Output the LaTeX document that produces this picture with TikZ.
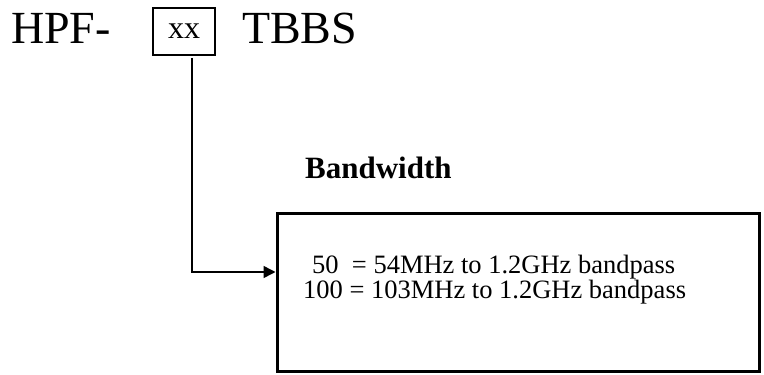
\documentclass[tikz,border=0pt]{standalone}
\usepackage{fontspec}
\setmainfont{Liberation Serif}
\usetikzlibrary{arrows.meta}

\tikzset{
    code/.style={inner sep=0pt, anchor=base west, font=\fontsize{46}{54}\selectfont},
    field/.style={draw, line width=1.8pt, minimum width=62pt, minimum height=47pt, inner sep=0pt, font=\fontsize{32}{36}\selectfont},
    panel/.style={draw, line width=3pt, minimum width=482pt, minimum height=158pt},
}

\begin{document}
\begin{tikzpicture}[x=1pt, y=-1pt]
\useasboundingbox (0,0) rectangle (764,375);
\node [code] (hpf) at (11,43) {HPF-};
\node [field] (xx) at (184,31.5) {xx};
\node [code] (tbbs) at (242,43) {TBBS};
\node [inner sep=0pt, anchor=base west, font=\bfseries\fontsize{31}{36}\selectfont] (bw) at (305,178) {Bandwidth};
\node [panel] (opts) at (518,292) {};
\node [inner sep=0pt, anchor=base west, align=left, font=\fontsize{26.5}{25}\selectfont] (list) at (303,298)
    {\hspace*{9pt}50~~= 54MHz to 1.2GHz bandpass\\100 = 103MHz to 1.2GHz bandpass};
\draw [line width=1.5pt, -{Triangle[length=12pt, width=12pt]}] ([xshift=8pt, yshift=-2pt]xx.south) |- ([yshift=20pt]opts.west);
\end{tikzpicture}
\end{document}
